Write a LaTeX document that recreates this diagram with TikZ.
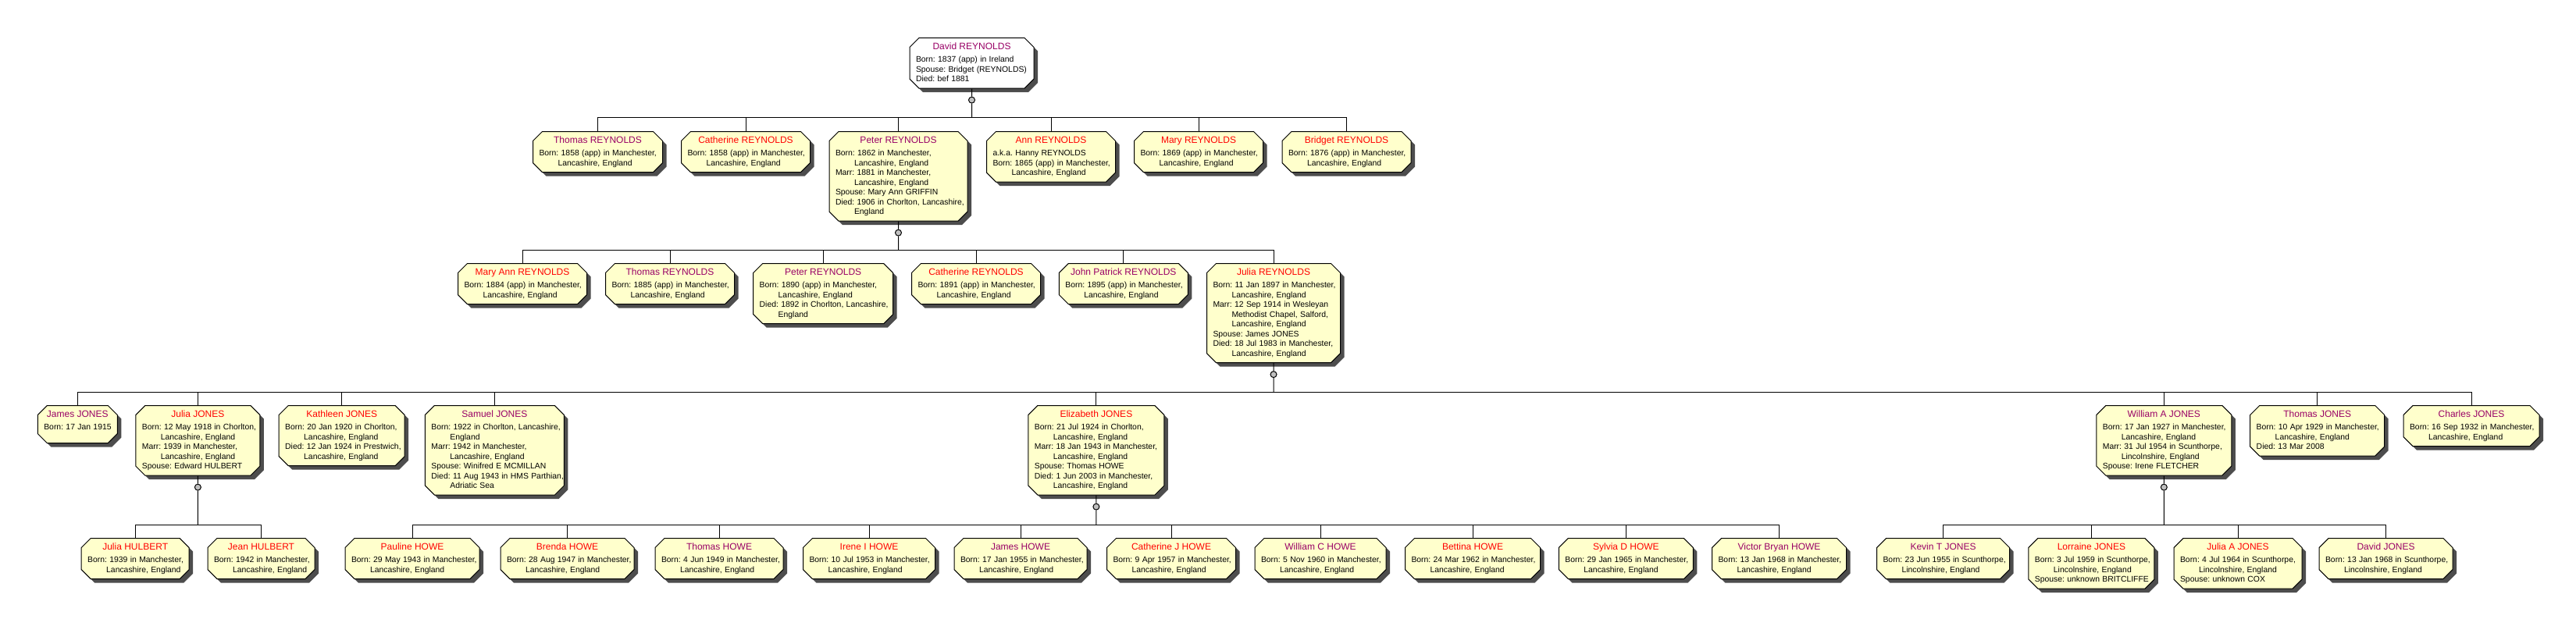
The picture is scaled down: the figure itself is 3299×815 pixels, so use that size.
\documentclass[tikz,border=0pt]{standalone}
\usepackage{fontspec}
\setmainfont{Liberation Sans}
\usepackage{xcolor}
\usepackage{tikz}
\usetikzlibrary{positioning,shapes.misc,shadows}

\definecolor{paper}{RGB}{255,255,204}
\definecolor{male}{RGB}{153,0,102}
\definecolor{female}{RGB}{255,0,0}
\definecolor{shade}{RGB}{77,77,77}
\definecolor{knotgray}{RGB}{192,192,192}

\frenchspacing
\newcommand{\nm}[2]{\lineskiplimit=-100pt\relax{\centering\fontsize{12}{12.5}\selectfont\color{#1}\rule{0pt}{15.3pt}#2\par}\vskip3.5pt\fontsize{10.4}{12.5}\selectfont}
\newcommand{\fld}[2][8.3pt]{\par\noindent\rule[-#1]{0pt}{#1}\mbox{#2}\par}
\newcommand{\fldc}[2][8.3pt]{\par\noindent\hspace*{24pt}\rule[-#1]{0pt}{#1}\mbox{#2}\par}

\begin{document}
\begin{tikzpicture}[x=1pt,y=-1pt,
		person/.style={chamfered rectangle,chamfered rectangle xsep=6pt,chamfered rectangle ysep=6pt,draw,line width=1pt,fill=paper,inner xsep=2pt,inner ysep=-6pt,anchor=north,drop shadow={shadow xshift=5pt,shadow yshift=-5pt,fill=shade,opacity=1}},
		bw/.code={\pgfmathsetlengthmacro\boxtw{#1-16}\tikzset{text width=\boxtw}},
		knot/.style={circle,draw,line width=1pt,fill=knotgray,minimum size=8pt,inner sep=0pt},
		link/.style={line width=1pt}]
		\path[use as bounding box,fill=white] (0,0) rectangle (3299,815);

		\node[person,fill=white,bw=159] (david) at (1244.5,48) {\nm{male}{David REYNOLDS}\fld{Born: 1837 (app) in Ireland}\fld{Spouse: Bridget (REYNOLDS)}\fld{Died: bef 1881}};

		\node[person,bw=166] (thomasR1) at (765.5,168) {\nm{male}{Thomas REYNOLDS}\fld{Born: 1858 (app) in Manchester,}\fldc{Lancashire, England}};
		\node[person,bw=165] (cathR1) at (955,168) {\nm{female}{Catherine REYNOLDS}\fld{Born: 1858 (app) in Manchester,}\fldc{Lancashire, England}};
		\node[person,bw=177] (peterR1) at (1150.5,168) {\nm{male}{Peter REYNOLDS}\fld{Born: 1862 in Manchester,}\fldc{Lancashire, England}\fld{Marr: 1881 in Manchester,}\fldc{Lancashire, England}\fld{Spouse: Mary Ann GRIFFIN}\fld{Died: 1906 in Chorlton, Lancashire,}\fldc{England}};
		\node[person,bw=165] (annR) at (1346,168) {\nm{female}{Ann REYNOLDS}\fld{a.k.a. Hanny REYNOLDS}\fld{Born: 1865 (app) in Manchester,}\fldc{Lancashire, England}};
		\node[person,bw=165] (maryR) at (1535,168) {\nm{female}{Mary REYNOLDS}\fld{Born: 1869 (app) in Manchester,}\fldc{Lancashire, England}};
		\node[person,bw=165] (bridgetR) at (1724.5,168) {\nm{female}{Bridget REYNOLDS}\fld{Born: 1876 (app) in Manchester,}\fldc{Lancashire, England}};

		\node[person,bw=165] (maryannR) at (669,337) {\nm{female}{Mary Ann REYNOLDS}\fld{Born: 1884 (app) in Manchester,}\fldc{Lancashire, England}};
		\node[person,bw=165] (thomasR2) at (858,337) {\nm{male}{Thomas REYNOLDS}\fld{Born: 1885 (app) in Manchester,}\fldc{Lancashire, England}};
		\node[person,bw=179] (peterR2) at (1054.2,337) {\nm{male}{Peter REYNOLDS}\fld{Born: 1890 (app) in Manchester,}\fldc{Lancashire, England}\fld{Died: 1892 in Chorlton, Lancashire,}\fldc{England}};
		\node[person,bw=165] (cathR2) at (1250,337) {\nm{female}{Catherine REYNOLDS}\fld{Born: 1891 (app) in Manchester,}\fldc{Lancashire, England}};
		\node[person,bw=165] (johnR) at (1438.8,337) {\nm{male}{John Patrick REYNOLDS}\fld{Born: 1895 (app) in Manchester,}\fldc{Lancashire, England}};
		\node[person,bw=171] (juliaR) at (1631,337) {\nm{female}{Julia REYNOLDS}\fld{Born: 11 Jan 1897 in Manchester,}\fldc{Lancashire, England}\fld{Marr: 12 Sep 1914 in Wesleyan}\fldc{Methodist Chapel, Salford,}\fldc{Lancashire, England}\fld{Spouse: James JONES}\fld{Died: 18 Jul 1983 in Manchester,}\fldc{Lancashire, England}};

		\node[person,bw=102] (jamesJ) at (99.3,519) {\nm{male}{James JONES}\fld[16.7pt]{Born: 17 Jan 1915}};
		\node[person,bw=159] (juliaJ) at (253.4,519) {\nm{female}{Julia JONES}\fld{Born: 12 May 1918 in Chorlton,}\fldc{Lancashire, England}\fld{Marr: 1939 in Manchester,}\fldc{Lancashire, England}\fld{Spouse: Edward HULBERT}};
		\node[person,bw=161] (kathJ) at (437.7,519) {\nm{female}{Kathleen JONES}\fld{Born: 20 Jan 1920 in Chorlton,}\fldc{Lancashire, England}\fld{Died: 12 Jan 1924 in Prestwich,}\fldc{Lancashire, England}};
		\node[person,bw=178] (samJ) at (633.4,519) {\nm{male}{Samuel JONES}\fld{Born: 1922 in Chorlton, Lancashire,}\fldc{England}\fld{Marr: 1942 in Manchester,}\fldc{Lancashire, England}\fld{Spouse: Winifred E MCMILLAN}\fld{Died: 11 Aug 1943 in HMS Parthian,}\fldc{Adriatic Sea}};
		\node[person,bw=174] (elizJ) at (1403.9,519) {\nm{female}{Elizabeth JONES}\fld{Born: 21 Jul 1924 in Chorlton,}\fldc{Lancashire, England}\fld{Marr: 18 Jan 1943 in Manchester,}\fldc{Lancashire, England}\fld{Spouse: Thomas HOWE}\fld{Died: 1 Jun 2003 in Manchester,}\fldc{Lancashire, England}};
		\node[person,bw=173] (williamJ) at (2771.3,519) {\nm{male}{William A JONES}\fld{Born: 17 Jan 1927 in Manchester,}\fldc{Lancashire, England}\fld{Marr: 31 Jul 1954 in Scunthorpe,}\fldc{Lincolnshire, England}\fld{Spouse: Irene FLETCHER}};
		\node[person,bw=172] (thomasJ) at (2967.7,519) {\nm{male}{Thomas JONES}\fld{Born: 10 Apr 1929 in Manchester,}\fldc{Lancashire, England}\fld{Died: 13 Mar 2008}};
		\node[person,bw=174] (charlesJ) at (3165,519) {\nm{male}{Charles JONES}\fld{Born: 16 Sep 1932 in Manchester,}\fldc{Lancashire, England}};

		\node[person,bw=138] (juliaH) at (173.2,689) {\nm{female}{Julia HULBERT}\fld{Born: 1939 in Manchester,}\fldc{Lancashire, England}};
		\node[person,bw=137] (jeanH) at (334.5,689) {\nm{female}{Jean HULBERT}\fld{Born: 1942 in Manchester,}\fldc{Lancashire, England}};
		\node[person,bw=172] (paulineH) at (528,689) {\nm{female}{Pauline HOWE}\fld{Born: 29 May 1943 in Manchester,}\fldc{Lancashire, England}};
		\node[person,bw=171] (brendaH) at (726.5,689) {\nm{female}{Brenda HOWE}\fld{Born: 28 Aug 1947 in Manchester,}\fldc{Lancashire, England}};
		\node[person,bw=164] (thomasH) at (921,689) {\nm{male}{Thomas HOWE}\fld{Born: 4 Jun 1949 in Manchester,}\fldc{Lancashire, England}};
		\node[person,bw=169] (ireneH) at (1113,689) {\nm{female}{Irene I HOWE}\fld{Born: 10 Jul 1953 in Manchester,}\fldc{Lancashire, England}};
		\node[person,bw=170] (jamesH) at (1307,689) {\nm{male}{James HOWE}\fld{Born: 17 Jan 1955 in Manchester,}\fldc{Lancashire, England}};
		\node[person,bw=165] (cathH) at (1500,689) {\nm{female}{Catherine J HOWE}\fld{Born: 9 Apr 1957 in Manchester,}\fldc{Lancashire, England}};
		\node[person,bw=168] (williamH) at (1691,689) {\nm{male}{William C HOWE}\fld{Born: 5 Nov 1960 in Manchester,}\fldc{Lancashire, England}};
		\node[person,bw=173] (bettinaH) at (1886,689) {\nm{female}{Bettina HOWE}\fld{Born: 24 Mar 1962 in Manchester,}\fldc{Lancashire, England}};
		\node[person,bw=172] (sylviaH) at (2082.4,689) {\nm{female}{Sylvia D HOWE}\fld{Born: 29 Jan 1965 in Manchester,}\fldc{Lancashire, England}};
		\node[person,bw=172] (victorH) at (2278.5,689) {\nm{male}{Victor Bryan HOWE}\fld{Born: 13 Jan 1968 in Manchester,}\fldc{Lancashire, England}};
		\node[person,bw=170] (kevinJ) at (2488.5,689) {\nm{male}{Kevin T JONES}\fld{Born: 23 Jun 1955 in Scunthorpe,}\fldc{Lincolnshire, England}};
		\node[person,bw=161] (lorraineJ) at (2678.4,689) {\nm{female}{Lorraine JONES}\fld{Born: 3 Jul 1959 in Scunthorpe,}\fldc{Lincolnshire, England}\fld{Spouse: unknown BRITCLIFFE}};
		\node[person,bw=164] (juliaAJ) at (2866,689) {\nm{female}{Julia A JONES}\fld{Born: 4 Jul 1964 in Scunthorpe,}\fldc{Lincolnshire, England}\fld{Spouse: unknown COX}};
		\node[person,bw=171] (davidJ) at (3055.5,689) {\nm{male}{David JONES}\fld{Born: 13 Jan 1968 in Scunthorpe,}\fldc{Lincolnshire, England}};

		\coordinate (b1) at (0,150);
		\coordinate (b2) at (0,320);
		\coordinate (b3) at (0,502);
		\coordinate (b4) at (0,672);

		\node[knot,below=10pt of david] (k1) {};
		\node[knot,below=10pt of peterR1] (k2) {};
		\node[knot,below=10pt of juliaR] (k3) {};
		\node[knot,below=10pt of juliaJ] (k4) {};
		\node[knot,below=10pt of elizJ] (k5) {};
		\node[knot,below=10pt of williamJ] (k6) {};

		\draw[link] (david) -- (k1) -- (k1 |- b1);
		\draw[link] (peterR1) -- (k2) -- (k2 |- b2);
		\draw[link] (juliaR) -- (k3) -- (k3 |- b3);
		\draw[link] (juliaJ) -- (k4) -- (k4 |- b4);
		\draw[link] (elizJ) -- (k5) -- (k5 |- b4);
		\draw[link] (williamJ) -- (k6) -- (k6 |- b4);

		\draw[link] (thomasR1.north |- b1) -- (bridgetR.north |- b1);
		\draw[link] (maryannR.north |- b2) -- (juliaR.north |- b2);
		\draw[link] (jamesJ.north |- b3) -- (charlesJ.north |- b3);
		\draw[link] (juliaH.north |- b4) -- (jeanH.north |- b4);
		\draw[link] (paulineH.north |- b4) -- (victorH.north |- b4);
		\draw[link] (kevinJ.north |- b4) -- (davidJ.north |- b4);

		\foreach \c in {thomasR1,cathR1,peterR1,annR,maryR,bridgetR}
			\draw[link] (\c.north |- b1) -- (\c.north);
		\foreach \c in {maryannR,thomasR2,peterR2,cathR2,johnR,juliaR}
			\draw[link] (\c.north |- b2) -- (\c.north);
		\foreach \c in {jamesJ,juliaJ,kathJ,samJ,elizJ,williamJ,thomasJ,charlesJ}
			\draw[link] (\c.north |- b3) -- (\c.north);
		\foreach \c in {juliaH,jeanH,paulineH,brendaH,thomasH,ireneH,jamesH,cathH,williamH,bettinaH,sylviaH,victorH,kevinJ,lorraineJ,juliaAJ,davidJ}
			\draw[link] (\c.north |- b4) -- (\c.north);
	\end{tikzpicture}
\end{document}
